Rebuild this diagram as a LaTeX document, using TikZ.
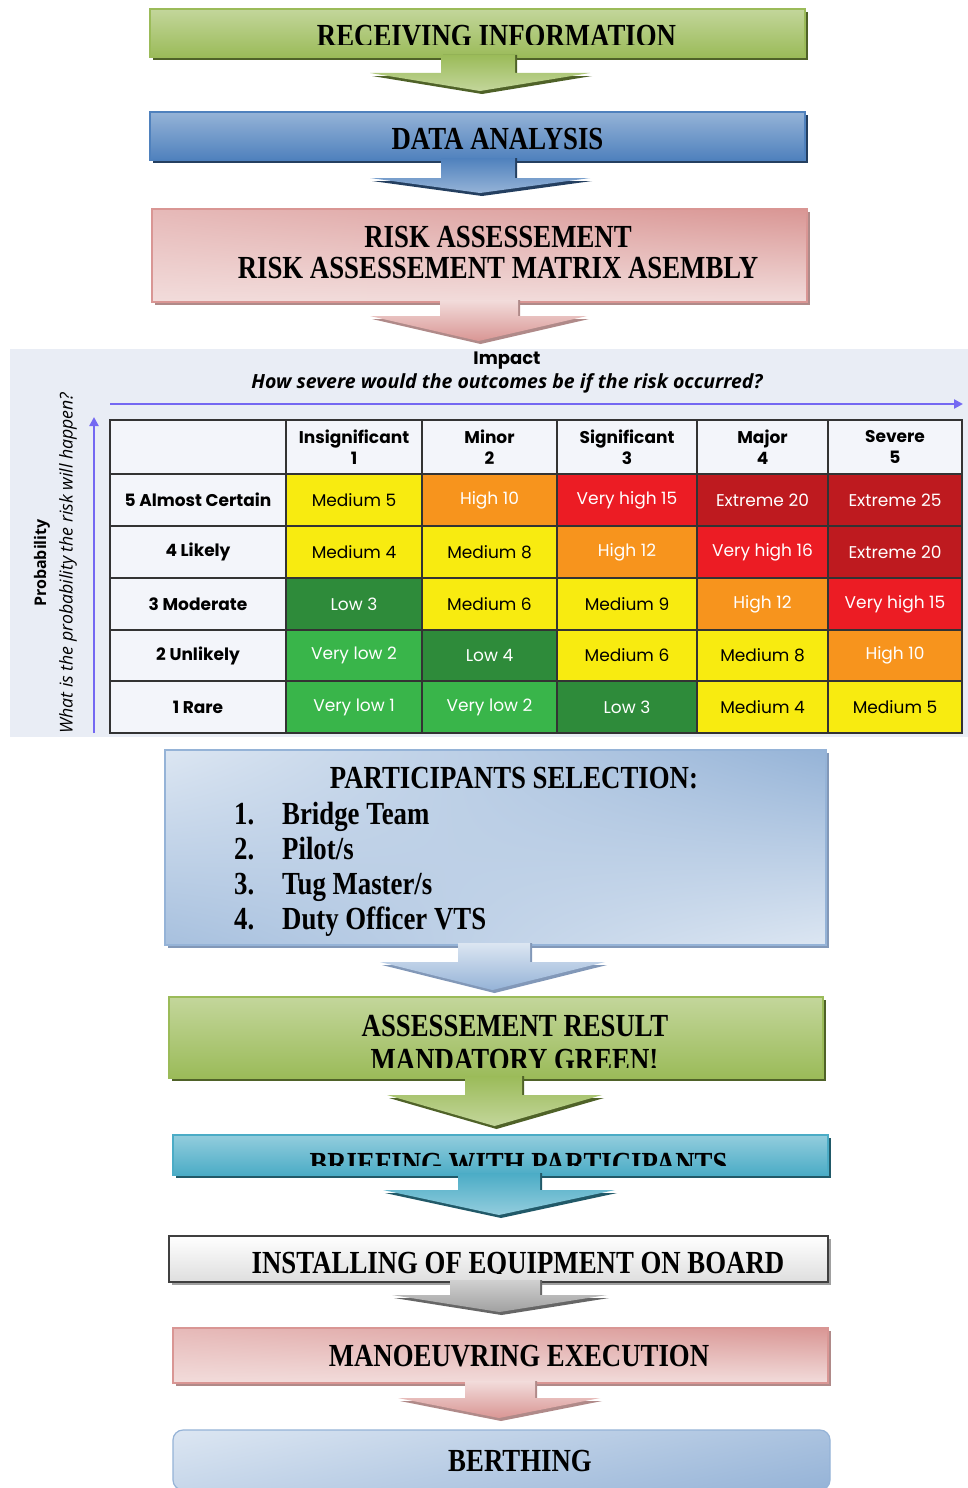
\documentclass[tikz,border=0pt]{standalone}
\usepackage{fontspec}
\usepackage{graphicx}
\setmainfont{Liberation Serif}
\newfontfamily\pop{Poppins}
\newfontfamily\osans{Open Sans}
\usetikzlibrary{arrows.meta,shadings}
\definecolor{gL}{HTML}{C3D69B}
\definecolor{gM}{HTML}{9BBB59}
\definecolor{gS}{HTML}{4F6228}
\definecolor{bL}{HTML}{95B3D7}
\definecolor{bM}{HTML}{4F81BD}
\definecolor{bS}{HTML}{243F60}
\definecolor{pL}{HTML}{F2DCDB}
\definecolor{pM}{HTML}{E6B9B8}
\definecolor{pD}{HTML}{D99694}
\definecolor{pS}{HTML}{B08A89}
\definecolor{lbL}{HTML}{DCE6F2}
\definecolor{lbM}{HTML}{A7C0DE}
\definecolor{lbS}{HTML}{8298B8}
\definecolor{tL}{HTML}{93CDDD}
\definecolor{tM}{HTML}{4BACC6}
\definecolor{tS}{HTML}{215968}
\definecolor{grL}{HTML}{FFFFFF}
\definecolor{grM}{HTML}{D0D0D0}
\definecolor{grB}{HTML}{404040}
\definecolor{grS}{HTML}{A0A0A0}
\definecolor{yel}{HTML}{F8EB10}
\definecolor{org}{HTML}{F7941D}
\definecolor{rd}{HTML}{EC1C24}
\definecolor{drd}{HTML}{BE1A1F}
\definecolor{dgr}{HTML}{2E8B3A}
\definecolor{lgr}{HTML}{39B54A}
\definecolor{hdr}{HTML}{F3F5FA}
\definecolor{grid}{HTML}{333333}
\definecolor{axc}{HTML}{7468F2}
\definecolor{panel}{HTML}{E9EDF5}
\newcommand\ff{\fontsize{26.8}{30}\selectfont\bfseries}
\newcommand\tall[1]{\scalebox{1}[1.2]{#1}}
% #1 shadow colour, #2 fill style, #3 stem x1, #4 stem x2, #5 stem top, #6 head top, #7 head x1, #8 head x2, #9 tip y
\newcommand\flowarrow[9]{%
  \fill[#1] (#3+2,#5) -- (#3+2,#6+3) -- (#7+2,#6+3) -- ({(#7+#8)/2+2},#9+3) -- (#8+2,#6+3) -- (#4+2,#6+3) -- (#4+2,#5) -- cycle;
  \path[#2] (#3,#5) -- (#3,#6) -- (#7,#6) -- ({(#7+#8)/2},#9) -- (#8,#6) -- (#4,#6) -- (#4,#5) -- cycle;
}
\begin{document}
\begin{tikzpicture}[x=1pt,y=-1pt,
  ftxt/.style={anchor=base, inner sep=0pt, font=\ff},
  ltxt/.style={anchor=base west, inner sep=0pt, font=\ff},
  fbox/.style={rectangle, inner sep=0pt, line width=1.2pt},
  garrow/.style={top color=gM, bottom color=gL},
  barrow/.style={top color=bM, bottom color=bL},
  parrow/.style={top color=pL, bottom color=pD},
  lbarrow/.style={top color=lbL, bottom color=bL},
  tarrow/.style={top color=tM, bottom color=tL},
  grarrow/.style={top color=grM, bottom color=grS},
  axis/.style={draw=axc, line width=2.6pt, -{Triangle[length=9pt,width=9pt]}},
  cell/.style={rectangle, draw=grid, line width=1.2pt, inner sep=0pt, font=\pop\fontsize{17}{19}\selectfont},
  hcell/.style={cell, fill=hdr, align=center, font=\pop\bfseries\fontsize{17}{21}\selectfont}
]
\useasboundingbox (0,0) rectangle (968,1488);
\fill[white] (0,0) rectangle (968,1488);

% ---------- Box 1: receiving information
\fill[gS] (153,12) rectangle (808,60);
\node[fbox, top color=gL, bottom color=gM, draw=gM, minimum width=655pt, minimum height=48pt] (b1) at (477.5,33) {};
\flowarrow{gS}{garrow}{441}{515}{55}{73}{370}{590}{91}
\begin{scope}
  \clip (150,0) rectangle (805,45);
  \node[ftxt] (t1) at (496.5,46.5) {\tall{RECEIVING INFORMATION}};
\end{scope}

% ---------- Box 2: data analysis
\fill[bS] (153,115) rectangle (808,163);
\node[fbox, top color=bL, bottom color=bM, draw=bM, minimum width=655pt, minimum height=48pt] (b2) at (477.5,136) {};
\flowarrow{bS}{barrow}{441}{515}{158}{178}{370}{590}{193}
\node[ftxt] (t2) at (497.5,149) {\tall{DATA ANALYSIS}};

% ---------- Box 3: risk assessement
\fill[pS] (155,212) rectangle (810,305);
\node[fbox, upper left=pM, upper right=pD, lower left=pL, lower right=pL, draw=pD, minimum width=655pt, minimum height=93pt] (b3) at (479.5,255.5) {};
\flowarrow{pS}{parrow}{440}{518}{300}{316}{370}{587}{341}
\node[ftxt] (t3a) at (498,247) {\tall{RISK ASSESSEMENT}};
\node[ftxt] (t3b) at (498,278) {\tall{RISK ASSESSEMENT MATRIX ASEMBLY}};

% ---------- Risk matrix
\fill[panel] (10,349) rectangle (968,737);
\node[font=\pop\bfseries\fontsize{18}{20}\selectfont] (imp) at (507,361) {Impact};
\node[font=\osans\bfseries\itshape\fontsize{19.5}{22}\selectfont] (impq) at (507,383) {How severe would the outcomes be if the risk occurred?};
\coordinate (ia) at (110,404);
\coordinate (ib) at (963,404);
\draw[axis] (ia) -- (ib);
\coordinate (pa) at (94,733);
\coordinate (pb) at (94,417);
\draw[axis] (pa) -- (pb);
\node[rotate=90, font=\osans\bfseries\fontsize{16}{18}\selectfont] (prob) at (42,563) {Probability};
\node[rotate=90, font=\osans\itshape\fontsize{17.7}{20}\selectfont] (probq) at (68,563) {What is the probability the risk will happen?};

\foreach \n/\xa/\xb/\ya/\yb/\t in {
  h0/110/286/420/474/{},
  h1/286/422/420/474/{Insignificant\\1},
  h2/422/557/420/474/{Minor\\2},
  h3/557/697/420/474/{Significant\\3},
  h4/697/828/420/474/{Major\\4},
  h5/828/962/420/474/{Severe\\5},
  r5/110/286/474/526/{5 Almost Certain},
  r4/110/286/526/578/{4 Likely},
  r3/110/286/578/630/{3 Moderate},
  r2/110/286/630/681/{2 Unlikely},
  r1/110/286/681/733/{1 Rare}}
  \node[hcell, minimum width={(\xb-\xa)*1pt}, minimum height={(\yb-\ya)*1pt}] (\n) at ({(\xa+\xb)/2},{(\ya+\yb)/2}) {\t};

\foreach \n/\xa/\xb/\ya/\yb/\fc/\tc/\t in {
  c51/286/422/474/526/yel/black/{Medium 5},
  c52/422/557/474/526/org/white/{High 10},
  c53/557/697/474/526/rd/white/{Very high 15},
  c54/697/828/474/526/drd/white/{Extreme 20},
  c55/828/962/474/526/drd/white/{Extreme 25},
  c41/286/422/526/578/yel/black/{Medium 4},
  c42/422/557/526/578/yel/black/{Medium 8},
  c43/557/697/526/578/org/white/{High 12},
  c44/697/828/526/578/rd/white/{Very high 16},
  c45/828/962/526/578/drd/white/{Extreme 20},
  c31/286/422/578/630/dgr/white/{Low 3},
  c32/422/557/578/630/yel/black/{Medium 6},
  c33/557/697/578/630/yel/black/{Medium 9},
  c34/697/828/578/630/org/white/{High 12},
  c35/828/962/578/630/rd/white/{Very high 15},
  c21/286/422/630/681/lgr/white/{Very low 2},
  c22/422/557/630/681/dgr/white/{Low 4},
  c23/557/697/630/681/yel/black/{Medium 6},
  c24/697/828/630/681/yel/black/{Medium 8},
  c25/828/962/630/681/org/white/{High 10},
  c11/286/422/681/733/lgr/white/{Very low 1},
  c12/422/557/681/733/lgr/white/{Very low 2},
  c13/557/697/681/733/dgr/white/{Low 3},
  c14/697/828/681/733/yel/black/{Medium 4},
  c15/828/962/681/733/yel/black/{Medium 5}}
  \node[cell, fill=\fc, text=\tc, minimum width={(\xb-\xa)*1pt}, minimum height={(\yb-\ya)*1pt}] (\n) at ({(\xa+\xb)/2},{(\ya+\yb)/2}) {\t};
\draw[grid, line width=1.8pt] (110,420) rectangle (962,733);

% ---------- Box 4: participants selection
\fill[lbS] (168,753) rectangle (829,948);
\node[fbox, upper left=lbL, upper right=bL, lower left=lbM, lower right=lbL, draw=bL, minimum width=661pt, minimum height=195pt] (b4) at (495.5,847.5) {};
\flowarrow{lbS}{lbarrow}{458}{530}{943}{962}{380}{605}{990}
\node[ftxt] (t4) at (514,788) {\tall{PARTICIPANTS SELECTION:}};
\node[ltxt] (n1) at (234,824) {\tall{1.}};
\node[ltxt] (i1) at (282,824) {\tall{Bridge Team}};
\node[ltxt] (n2) at (234,859) {\tall{2.}};
\node[ltxt] (i2) at (282,859) {\tall{Pilot/s}};
\node[ltxt] (n3) at (234,894) {\tall{3.}};
\node[ltxt] (i3) at (282,894) {\tall{Tug Master/s}};
\node[ltxt] (n4) at (234,929) {\tall{4.}};
\node[ltxt] (i4) at (282,929) {\tall{Duty Officer VTS}};

% ---------- Box 5: assessement result
\fill[gS] (172,1000) rectangle (826,1081);
\node[fbox, top color=gL, bottom color=gM, draw=gM, minimum width=654pt, minimum height=81pt] (b5) at (496,1037.5) {};
\flowarrow{gS}{garrow}{465}{522}{1076}{1095}{387}{602}{1126}
\node[ftxt] (t5a) at (515,1036) {\tall{ASSESSEMENT RESULT}};
\begin{scope}
  \clip (169,990) rectangle (823,1067);
  \node[ftxt] (t5b) at (514.5,1070) {\tall{MANDATORY GREEN!}};
\end{scope}

% ---------- Box 6: briefing
\fill[tS] (176,1138) rectangle (831,1178);
\node[fbox, top color=tL, bottom color=tM, draw=tM, minimum width=655pt, minimum height=40pt] (b6) at (500.5,1155) {};
\flowarrow{tS}{tarrow}{458}{540}{1173}{1190}{383}{615}{1215}
\begin{scope}
  \clip (173,1135) rectangle (828,1165);
  \node[ftxt] (t6) at (518.5,1174) {\tall{BRIEFING WITH PARTICIPANTS}};
\end{scope}

% ---------- Box 7: installing of equipment
\fill[grS] (172,1239) rectangle (831,1285);
\node[fbox, top color=grL, bottom color=grM!70, draw=grB, minimum width=659pt, minimum height=46pt] (b7) at (498.5,1259) {};
\flowarrow{grB!80}{grarrow}{450}{540}{1280}{1295}{392}{607}{1312}
\begin{scope}
  \clip (169,1236) rectangle (828,1273.5);
  \node[ftxt] (t7) at (518,1273.5) {\tall{INSTALLING OF EQUIPMENT ON BOARD}};
\end{scope}

% ---------- Box 8: manoeuvring execution
\fill[pS] (176,1331) rectangle (831,1386);
\node[fbox, upper left=pM, upper right=pD, lower left=pL, lower right=pL, draw=pD, minimum width=655pt, minimum height=55pt] (b8) at (500.5,1355.5) {};
\flowarrow{pS}{parrow}{465}{535}{1381}{1398}{398}{600}{1418}
\node[ftxt] (t8) at (519,1366) {\tall{MANOEUVRING EXECUTION}};

% ---------- Box 9: berthing
\node[fbox, rounded corners=10pt, upper left=lbL, upper right=bL!70!lbL, lower left=lbM!40!lbL, lower right=bL, draw=bL, minimum width=657pt, minimum height=60pt] (b9) at (501.5,1460) {};
\node[ftxt] (t9) at (520,1471) {\tall{BERTHING}};
\end{tikzpicture}
\end{document}
